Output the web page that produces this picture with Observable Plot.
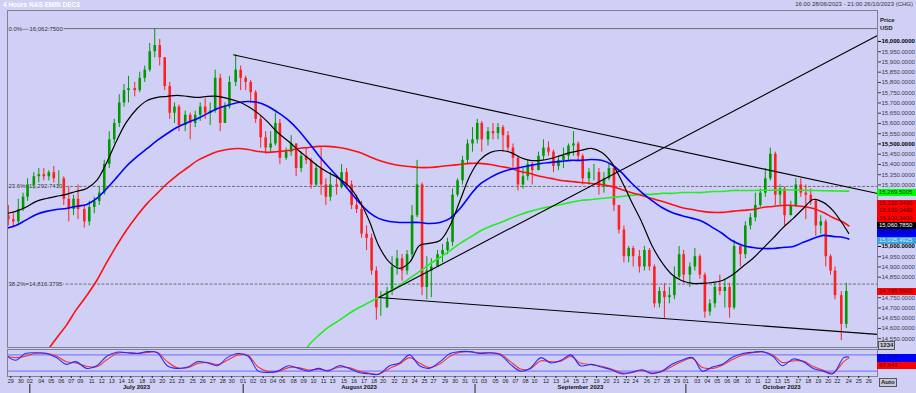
<!DOCTYPE html>
<html><head><meta charset="utf-8">
<script src="https://cdn.jsdelivr.net/npm/d3@7"></script>
<script src="https://cdn.jsdelivr.net/npm/@observablehq/plot@0.6"></script>
<style>
body{margin:0;background:#d0d0f6;font-family:"Liberation Sans",Arial,sans-serif;}
#wrap{position:relative;width:916px;height:393px;background:#d0d0f6;overflow:hidden}
#hdr{position:absolute;left:3px;top:0px;font-size:6.5px;font-weight:bold;color:#fff;line-height:9px}
#rng{position:absolute;right:3px;top:0px;font-size:6px;color:#333;line-height:9px}
#main{position:absolute;left:0;top:10px}
#osc{position:absolute;left:0;top:347px}
.tag{position:absolute;left:877px;width:39px;height:7.3px;font-size:6px;line-height:7.3px;padding-left:2px;box-sizing:border-box;white-space:nowrap}
.btn{position:absolute;font-size:6px;font-weight:bold;line-height:7px;background:#c8c8d8;border:1px solid #555;color:#222;padding:0 1px}
#pu{position:absolute;left:880px;top:16px;font-size:6px;font-weight:bold;line-height:8px;color:#222}
</style></head><body>
<div id="wrap">
<div id="hdr">4 Hours NAS EMIN DEC3</div>
<div id="rng">16:00 28/06/2023 - 21:00 26/10/2023 (CHG)</div>
<div id="pu">Price<br>USD</div>
<div id="main"></div>
<div id="osc"></div>
</div>
<script>
// ---------- data ----------
const tradingDays = d3.utcDays(new Date(Date.UTC(2023,5,28)), new Date(Date.UTC(2023,9,24)))
  .filter(d => d.getUTCDay() > 0 && d.getUTCDay() < 6).map(d3.utcFormat("%Y-%m-%d"));

// half-day candles [open, high, low, close]: AM then PM for every trading day
const candleRows = [
 null,[15150,15200,15100,15130], [15130,15160,15090,15120],[15120,15230,15110,15180], [15180,15260,15170,15240],[15240,15330,15220,15300],
 [15300,15360,15280,15340],[15340,15380,15310,15350], [15350,15380,15320,15340],[15340,15370,15320,15360], [15360,15390,15310,15330],[15330,15370,15290,15330],
 [15330,15340,15200,15230],[15230,15290,15120,15180], [15180,15250,15150,15230],[15230,15300,15130,15180],
 [15180,15200,15090,15120],[15120,15220,15100,15190], [15190,15240,15160,15220],[15220,15290,15200,15260], [15260,15420,15250,15400],[15400,15560,15380,15520],
 [15520,15620,15500,15600],[15600,15740,15580,15700], [15700,15790,15680,15760],[15760,15830,15700,15770],
 [15770,15800,15730,15760],[15760,15850,15750,15820], [15820,15880,15800,15860],[15860,15990,15850,15950], [15950,16062,15920,15980],[15980,16010,15880,15920],
 [15920,15920,15760,15780],[15780,15800,15620,15650], [15650,15700,15600,15680],[15680,15690,15560,15590],
 [15590,15660,15560,15640],[15640,15650,15520,15600], [15600,15660,15580,15640],[15640,15700,15610,15680], [15680,15720,15620,15650],[15650,15700,15590,15660],
 [15660,15860,15650,15820],[15820,15840,15560,15600], [15600,15700,15600,15680],[15680,15830,15670,15800],
 [15800,15935,15780,15860],[15860,15880,15760,15820], [15820,15830,15760,15800],[15800,15810,15700,15750], [15750,15760,15600,15620],[15620,15640,15480,15530],
 [15530,15560,15450,15480],[15480,15560,15460,15500], [15500,15650,15490,15600],[15600,15620,15400,15430],
 [15430,15480,15420,15460],[15460,15540,15440,15500], [15500,15500,15340,15380],[15380,15460,15360,15440], [15440,15480,15400,15420],[15420,15430,15280,15300],
 [15300,15400,15290,15380],[15380,15480,15250,15300], [15300,15330,15200,15240],[15240,15360,15220,15300],
 [15300,15340,15250,15290],[15290,15400,15280,15360], [15360,15380,15280,15300],[15300,15320,15180,15200], [15200,15250,15160,15180],[15180,15220,15040,15060],
 [15060,15100,14980,15040],[15040,15060,14860,14880], [14880,14900,14640,14700],[14700,14780,14660,14700],
 [14700,14800,14700,14780],[14780,14950,14760,14900], [14900,14980,14860,14940],[14940,14960,14830,14880], [14880,14980,14860,14960],[14960,15200,14940,15150],
 [15150,15420,15140,15300],[15300,15310,14760,14800], [14800,14950,14740,14880],[14880,14940,14750,14900],
 [14900,14980,14900,14960],[14960,15010,14920,14980], [14980,15040,14960,15020],[15020,15280,15000,15250], [15250,15330,15240,15320],[15320,15440,15300,15420],
 [15420,15520,15400,15500],[15500,15580,15460,15520], [15520,15620,15500,15600],[15600,15610,15460,15520],
 [15520,15580,15490,15560],[15560,15600,15520,15550], [15550,15600,15520,15580],[15580,15590,15460,15540], [15540,15560,15460,15480],[15480,15500,15380,15430],
 [15430,15440,15270,15300],[15300,15380,15280,15340], [15340,15420,15320,15400],[15400,15410,15300,15370],
 [15370,15460,15370,15440],[15440,15520,15420,15480], [15480,15510,15440,15460],[15460,15470,15360,15390], [15390,15440,15370,15420],[15420,15480,15380,15440],
 [15440,15500,15420,15490],[15490,15560,15440,15500], [15500,15510,15420,15440],[15440,15450,15300,15330],
 [15330,15380,15300,15360],[15360,15400,15320,15360], [15360,15380,15250,15290],[15290,15360,15260,15330], [15330,15400,15320,15380],[15380,15390,15170,15200],
 [15200,15200,15060,15080],[15080,15100,14920,14950], [14950,15000,14920,14990],[14990,15000,14900,14950],
 [14950,14980,14870,14900],[14900,15000,14880,14980], [14980,14990,14880,14900],[14900,14910,14700,14720], [14720,14800,14700,14780],[14780,14820,14650,14750],
 [14750,14800,14720,14760],[14760,14900,14740,14850], [14850,15000,14840,14960],[14960,14980,14820,14860],
 [14860,14920,14800,14900],[14900,14990,14880,14950], [14950,14960,14840,14860],[14860,14870,14650,14680], [14680,14740,14660,14720],[14720,14820,14700,14800],
 [14800,14860,14760,14780],[14780,14840,14700,14800], [14800,14820,14650,14700],[14700,15030,14690,15000],
 [15000,15010,14900,14960],[14960,15120,14940,15100], [15100,15160,15080,15140],[15140,15260,15120,15200], [15200,15280,15190,15260],[15260,15380,15240,15330],
 [15330,15480,15320,15450],[15450,15460,15200,15250], [15250,15300,15200,15280],[15280,15290,15100,15150],
 [15150,15220,15150,15200],[15200,15330,15190,15300], [15300,15330,15240,15260],[15260,15300,15130,15250], [15250,15280,15200,15220],[15220,15230,15050,15100],
 [15100,15150,15060,15120],[15120,15130,14900,14950], [14950,14960,14860,14880],[14880,14900,14740,14760],
 [14760,14780,14540,14620],[14620,14820,14600,14780]
];

// moving averages sampled at noon of each trading day, last value at 2023-10-24 00h
const maBlack = [15161,15171,15190,15220,15234,15244,15254,15268,15283,15322,15410,15517,15605,15673,15712,15727,15732,15737,15732,15727,15732,15732,15722,15707,
  15683,15649,15605,15556,15512,15468,15429,15390,15361,15332,15293,15224,15127,15005,14922,14893,14922,15005,15015,15029,15102,15224,15346,
  15420,15459,15468,15459,15434,15420,15420,15429,15444,15459,15468,15478,15459,15410,15322,15224,15117,15005,14922,14863,14834,
  14820,14820,14824,14834,14859,14902,14941,14990,15039,15088,15137,15185,15229,15215,15176,15102,15063];
const maBlue = [15088,15102,15127,15156,15171,15180,15185,15195,15205,15234,15283,15337,15390,15439,15478,15517,15551,15580,15605,15624,15649,15673,15688,15702,
  15707,15702,15683,15654,15615,15566,15507,15444,15390,15332,15273,15215,15166,15137,15122,15117,15117,15117,15112,15117,15137,15185,15249,
  15302,15337,15361,15376,15385,15395,15405,15410,15415,15420,15420,15424,15420,15400,15361,15312,15263,15224,15190,15166,15151,
  15137,15122,15093,15063,15029,15005,14995,14990,14990,14995,15000,15020,15039,15054,15049,15044,15036];
const maRed = [14200,14260,14330,14395,14483,14551,14615,14688,14761,14834,14922,15005,15078,15151,15210,15259,15307,15346,15385,15420,15444,15463,15473,15478,
  15473,15463,15459,15463,15468,15478,15483,15488,15488,15483,15473,15459,15439,15420,15405,15395,15390,15385,15385,15390,15395,15400,15405,
  15405,15400,15390,15381,15366,15356,15341,15332,15322,15317,15312,15307,15302,15293,15278,15263,15249,15234,15220,15205,15190,
  15180,15171,15166,15166,15171,15176,15180,15190,15195,15200,15200,15195,15185,15166,15141,15117,15100];
const maGreen = [null,null,null,null,null,null,null,null,null,null,null,null,null,null,null,null,null,null,null,null,null,null,null,null,
  null,null,null,null,null,14444,14517,14566,14605,14639,14673,14702,14727,14751,14780,14810,14844,14878,14912,14946,14980,15015,15044,
  15073,15098,15117,15137,15156,15171,15185,15195,15205,15215,15224,15229,15234,15239,15244,15249,15254,15254,15259,15259,15263,
  15263,15263,15268,15268,15273,15273,15273,15274,15274,15275,15275,15274,15273,15272,15271,15270,15270];

// stochastic oscillator (same sampling)
const stochK = [80,60,85,88,85,70,45,55,30,40,75,90,88,85,92,88,40,30,35,55,50,40,70,85,
  75,20,15,20,40,30,20,30,20,40,30,15,10,8,40,50,80,40,30,55,85,92,92,
  85,88,80,45,20,30,70,50,60,80,40,45,35,25,10,15,25,10,20,45,60,
  70,20,35,45,70,85,90,92,75,40,65,55,30,20,10,70,72];
const stochD = [75,70,75,86,86,76,55,50,38,36,62,85,89,86,89,90,55,33,33,48,52,44,60,80,
  78,35,18,18,33,33,24,27,23,34,33,20,12,9,30,46,70,50,33,47,75,90,92,
  88,87,83,55,28,28,58,55,57,74,50,44,38,28,14,14,22,14,18,37,55,
  67,33,30,42,62,80,88,91,80,52,58,57,37,23,13,55,68];

const fibLevels = [16062.75, 15292.741, 14816.3795];
const fibLabels = ["0.0%\u2014\u200916,062.7500", "23.6%=15,292.7410", "38.2%=14,816.3795"];

const trendLines = [
  {d1: "2023-07-31 00", p1: 15935, d2: "2023-10-26 21", p2: 15258},
  {d1: "2023-08-18 12", p1: 14751, d2: "2023-10-26 21", p2: 16029},
  {d1: "2023-08-18 12", p1: 14751, d2: "2023-10-26 21", p2: 14571}
];

const priceTags = [
  {v: 15269.5005, bg: "#00ff00", fg: "#003300"},
  {v: 15100.3400, bg: "#ff0000", fg: "#550000"},
  {v: 15100.3400, bg: "#ff0000", fg: "#550000"},
  {v: 15100.3400, bg: "#ff0000", fg: "#550000"},
  {v: 15060.7850, bg: "#000000", fg: "#ffffff"},
  {v: 15035.4925, bg: "#3fa0d8", fg: "#d8f0ff"},
  {v: 15035.4925, bg: "#0000ff", fg: "#000088"},
  {v: 14785.5900, bg: "#ff0000", fg: "#550000"}
];
const oscTags = [
  {v: 71.779, bg: "#0000ff", fg: "#000066"},
  {v: 67.843, bg: "#ff0000", fg: "#550000"}
];

const tickDates = ["2023-06-29","2023-06-30",
 ...["02","04","05","06","07","09","11","12","13","14","16","18","19","20","21","23","25","26","27","28","30"].map(d=>"2023-07-"+d),
 ...["01","02","03","04","06","08","09","10","11","13","15","16","17","18","20","22","23","24","25","27","29","30","31"].map(d=>"2023-08-"+d),
 ...["01","03","05","06","07","08","10","12","13","14","15","17","19","20","21","22","24","26","27","28","29"].map(d=>"2023-09-"+d),
 ...["01","03","04","05","06","08","10","11","12","13","15","17","18","19","20","22","24","25","26"].map(d=>"2023-10-"+d)];
const months = [
  {label: "July 2023", start: "2023-07-02", end: "2023-07-31 24"},
  {label: "August 2023", start: "2023-08-01", end: "2023-08-31 24"},
  {label: "September 2023", start: "2023-09-01", end: "2023-09-29 24"},
  {label: "October 2023", start: "2023-10-01", end: "2023-10-26 21"}
];

// ---------- trading-time axis (weekends collapsed) ----------
const DAYLEN = [0.15, 1, 1, 1, 1, 0.9, 0]; // Sun..Sat session length
const T0 = Date.UTC(2023, 5, 25);
function tu(s) {
  const [d, h] = s.split(" ");
  const [Y, M, D] = d.split("-").map(Number);
  const nd = Math.round((Date.UTC(Y, M - 1, D) - T0) / 864e5);
  let u = 0;
  for (let i = 0; i < nd; i++) u += DAYLEN[i % 7];
  return u + (h ? +h / 24 : 0) * DAYLEN[nd % 7];
}
const xDom = [tu("2023-06-28 16"), tu("2023-10-26 21")];
const yDom = [14507, 16151];
const MAIN_H = 337;

const slots = tradingDays.flatMap(d => [d + " 06", d + " 18"]);
const candles = candleRows.map((r, i) => r && {x: tu(slots[i]), o: r[0], h: r[1], l: r[2], c: r[3]}).filter(Boolean);
const maX = [...tradingDays.map(d => tu(d + " 12")), tu("2023-10-24 00")];
const maData = (arr) => arr.map((v, i) => ({x: maX[i], v})).filter(d => d.v != null);

const BG = "#d0d0f6";
const UP = "#009a00", DN = "#ff2020";
const fmt4 = d3.format(",.4f");

// value tags (stacked so they do not overlap)
const TAG_H = 7.3;
function layoutTags(tags, scale, dir) {
  const items = tags.map(t => ({...t, y: scale.apply(t.v) + 1.5}));
  items.sort((a, b) => dir * (b.y - a.y));
  for (let i = 1; i < items.length; i++) {
    const prev = items[i - 1];
    if (dir > 0 && prev.y - items[i].y < TAG_H) items[i].y = prev.y - TAG_H;
    if (dir < 0 && items[i].y - prev.y < TAG_H) items[i].y = prev.y + TAG_H;
  }
  return items;
}
const yStand = Plot.scale({y: {domain: yDom, range: [MAIN_H, 0]}});
const mainTags = layoutTags(priceTags, yStand, 1);
const allTicks = d3.range(14550, 16001, 50).filter(t => {
  const py = yStand.apply(t);
  return !mainTags.some(g => Math.abs(g.y - py) < TAG_H / 2 + 2);
});

const mainChart = Plot.plot({
  width: 916, height: MAIN_H, marginLeft: 7, marginRight: 39, marginTop: 0, marginBottom: 0,
  x: {domain: xDom, axis: null},
  y: {domain: yDom, axis: null},
  style: {background: "none", overflow: "visible", fontFamily: "Liberation Sans, Arial, sans-serif"},
  marks: [
    Plot.ruleY([fibLevels[0]], {stroke: "#555", strokeWidth: 0.8}),
    Plot.ruleY(fibLevels.slice(1), {stroke: "#555", strokeWidth: 0.8, strokeDasharray: "3,1.5"}),
    Plot.text(fibLevels, {x: xDom[0], y: d => d, text: (d, i) => fibLabels[i], textAnchor: "start", dx: 1, fontSize: 6, fill: "#333", stroke: BG, strokeWidth: 2}),
    Plot.ruleX(candles, {x: "x", y1: "l", y2: "h", stroke: d => d.c >= d.o ? UP : DN, strokeWidth: 1, clip: true}),
    Plot.ruleX(candles, {x: "x", y1: "o", y2: "c", stroke: d => d.c >= d.o ? UP : DN, strokeWidth: 2.6, clip: true}),
    Plot.line(maData(maGreen), {x: "x", y: "v", stroke: "#22ee22", strokeWidth: 1.6, curve: "catmull-rom", clip: true}),
    Plot.line(maData(maRed), {x: "x", y: "v", stroke: "#ff1010", strokeWidth: 1.6, curve: "catmull-rom", clip: true}),
    Plot.line(maData(maBlue), {x: "x", y: "v", stroke: "#0000ff", strokeWidth: 1.6, curve: "catmull-rom", clip: true}),
    Plot.line(maData(maBlack), {x: "x", y: "v", stroke: "#000", strokeWidth: 1.2, curve: "catmull-rom", clip: true}),
    Plot.link(trendLines, {x1: d => tu(d.d1), y1: "p1", x2: d => tu(d.d2), y2: "p2", stroke: "#000", strokeWidth: 1.1}),
    Plot.frame({stroke: "#80808f"}),
    Plot.axisY({anchor: "right", label: null, ticks: allTicks.filter(t => t % 500), tickFormat: fmt4, tickSize: 3, tickPadding: 1, fontSize: 6, color: "#3a3a4a"}),
    Plot.axisY({anchor: "right", label: null, ticks: allTicks.filter(t => t % 500 === 0), tickFormat: fmt4, tickSize: 3, tickPadding: 1, fontSize: 6, fontWeight: "bold", color: "#000"})
  ]
});
document.getElementById("main").append(mainChart);

const tickMap = new Map(tickDates.map(d => [tu(d), d.slice(8)]));
const monthStarts = months.map(m => tu(m.start));
const monthMid = new Map(months.map(m => [(tu(m.start) + tu(m.end)) / 2, m.label]));
const stK = stochK.map((v, i) => ({x: maX[i], v}));
const stD = stochD.map((v, i) => ({x: maX[i], v}));

const oscChart = Plot.plot({
  width: 916, height: 46, marginLeft: 7, marginRight: 39, marginTop: 2, marginBottom: 17,
  x: {domain: xDom, axis: null},
  y: {domain: [0, 100], axis: null},
  style: {background: "none", overflow: "visible", fontFamily: "Liberation Sans, Arial, sans-serif"},
  marks: [
    Plot.ruleY([20, 80], {stroke: "#6a6aff", strokeWidth: 1}),
    Plot.line(stD, {x: "x", y: "v", stroke: "#ff3030", strokeWidth: 1.1, curve: "catmull-rom", clip: true}),
    Plot.line(stK, {x: "x", y: "v", stroke: "#2a2aff", strokeWidth: 1.1, curve: "catmull-rom", clip: true}),
    Plot.frame({stroke: "#80808f"}),
    Plot.axisX({label: null, ticks: [...tickMap.keys()], tickFormat: u => tickMap.get(u), tickSize: 2, tickPadding: 1, fontSize: 5.5, color: "#222"}),
    // month separators drawn below the day labels
    Plot.ruleX(monthStarts, {stroke: "#222", strokeWidth: 1, dy: 35}),
    Plot.axisX({label: null, ticks: [...monthMid.keys()], tickFormat: u => monthMid.get(u), tickSize: 0, tickPadding: 8, fontSize: 6, fontWeight: "bold", color: "#111"})
  ]
});
document.getElementById("osc").append(oscChart);

// ---------- right-hand value tags ----------
const wrap = document.getElementById("wrap");
function drawTags(items, top) {
  for (const t of items) {
    const el = document.createElement("div");
    el.className = "tag";
    el.style.top = (top + t.y - TAG_H / 2) + "px";
    el.style.background = t.bg; el.style.color = t.fg;
    el.textContent = t.v > 1000 ? fmt4(t.v) : d3.format(".3f")(t.v);
    wrap.append(el);
  }
}
drawTags(mainTags, 10);
drawTags(layoutTags(oscTags, oscChart.scale("y"), -1), 347);

const b1 = document.createElement("div"); b1.className = "btn"; b1.textContent = "1234";
b1.style.left = "878px"; b1.style.top = "341px"; wrap.append(b1);
const b2 = document.createElement("div"); b2.className = "btn"; b2.textContent = "Auto";
b2.style.left = "879px"; b2.style.top = "378px"; wrap.append(b2);
</script>
</body></html>
